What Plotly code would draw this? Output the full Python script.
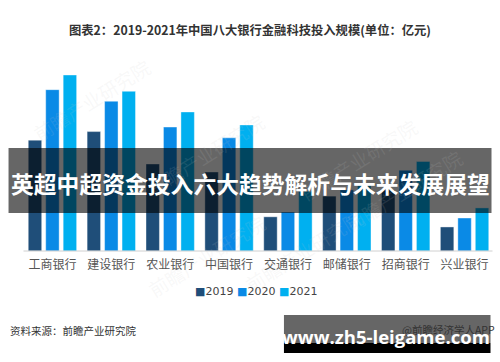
import plotly.graph_objects as go

banks = ["工商银行", "建设银行", "农业银行", "中国银行", "交通银行", "邮储银行", "招商银行", "兴业银行"]
years = ["2019", "2020", "2021"]
v2019 = [163.7, 176.3, 128.5, 116.6, 50.5, 81.0, 90.0, 35.5]
v2020 = [238.2, 221.1, 183.0, 167.1, 57.6, 90.2, 119.2, 48.7]
v2021 = [259.9, 235.8, 205.3, 186.1, 88.0, 100.3, 132.1, 63.6]
colors = ["#1f4e79", "#0a8ae6", "#00b0f0"]

W, H = 500, 362
L, R, T, B = 22.5, 5.5, 60, 111
PW, PH = W - L - R, H - T - B

def px(x):
    return (x - L) / PW

def py(y):
    return (H - B - y) / PH

fig = go.Figure()
for name, vals, c in zip(years, [v2019, v2020, v2021], colors):
    fig.add_trace(go.Bar(x=banks, y=vals, name=name, showlegend=False,
                         marker=dict(color=c, line=dict(color="rgba(255,255,255,0.5)", width=0.8))))

shapes = []
shapes.append(dict(type="line", xref="paper", yref="paper", x0=px(23), x1=px(493), y0=0, y1=0,
                   line=dict(color="#d0d0d0", width=1)))
shapes.append(dict(type="rect", xref="paper", yref="paper", x0=px(8), x1=px(492), y0=py(213), y1=py(148),
                   fillcolor="rgba(0,0,0,0.6)", line=dict(width=0), layer="above"))
shapes.append(dict(type="rect", xref="paper", yref="paper", x0=px(284), x1=px(491), y0=py(343), y1=py(315),
                   fillcolor="rgba(0,0,0,0.6)", line=dict(width=0), layer="above"))
shapes.append(dict(type="rect", xref="paper", yref="paper", x0=px(284), x1=px(491), y0=py(353), y1=py(343),
                   fillcolor="#000000", line=dict(width=0), layer="above"))

annotations = []
for (wx, wy) in [(205, 105), (425, 110), (25, 50), (140, 305), (370, 300), (470, 240)]:
    annotations.append(dict(text="前瞻产业研究院", x=px(wx), y=py(wy), xref="paper", yref="paper",
                            showarrow=False, textangle=-32, font=dict(size=19, color="rgba(200,200,200,0.13)",
                            family="Noto Sans CJK SC")))

legend_x = [214, 256, 298]
for yr, c, lx in zip(years, colors, legend_x):
    annotations.append(dict(text=f"<span style='color:{c}'>■</span>{yr}", x=px(lx), y=py(291),
                            xref="paper", yref="paper", showarrow=False, xanchor="center", yanchor="middle",
                            font=dict(size=11, color="#444444", family="DejaVu Sans")))

annotations += [
    dict(text="<b>图表2：2019-2021年中国八大银行金融科技投入规模(单位：亿元)</b>", x=px(250), y=py(30),
         xref="paper", yref="paper", showarrow=False, xanchor="center", yanchor="middle",
         font=dict(size=12.3, color="#333333", family="Noto Sans CJK SC")),
    dict(text="资料来源：前瞻产业研究院", x=px(7), y=py(330), xref="paper", yref="paper", showarrow=False,
         xanchor="left", yanchor="middle", font=dict(size=10.5, color="#333333", family="Noto Sans CJK SC")),
    dict(text="@前瞻经济学人APP", x=px(498), y=py(329), xref="paper", yref="paper", showarrow=False,
         xanchor="right", yanchor="middle", font=dict(size=10.5, color="#333333", family="Noto Sans CJK SC")),
    dict(text="<b>英超中超资金投入六大趋势解析与未来发展展望</b>", x=px(250), y=py(183), xref="paper", yref="paper",
         showarrow=False, xanchor="center", yanchor="middle",
         font=dict(size=22.8, color="#ffffff", family="Noto Sans CJK SC")),
    dict(text="<b>www.zh5-leigame.com</b>", x=px(386), y=py(336), xref="paper", yref="paper",
         showarrow=False, xanchor="center", yanchor="middle",
         font=dict(size=18.5, color="#ffffff", family="Open Sans")),
]

fig.update_layout(
    width=W, height=H, margin=dict(l=L, r=R, t=T, b=B),
    paper_bgcolor="white", plot_bgcolor="white",
    barmode="group", bargap=0.11, bargroupgap=0.23,
    showlegend=False,
    xaxis=dict(showgrid=False, showline=False, ticks="outside", ticklen=3, tickcolor="rgba(0,0,0,0)",
               tickfont=dict(size=12, color="#555555", family="Noto Sans CJK SC"), range=[-0.5, 7.5]),
    yaxis=dict(visible=False, range=[0, 282]),
    shapes=shapes, annotations=annotations,
)

fig.write_html("out.html")
